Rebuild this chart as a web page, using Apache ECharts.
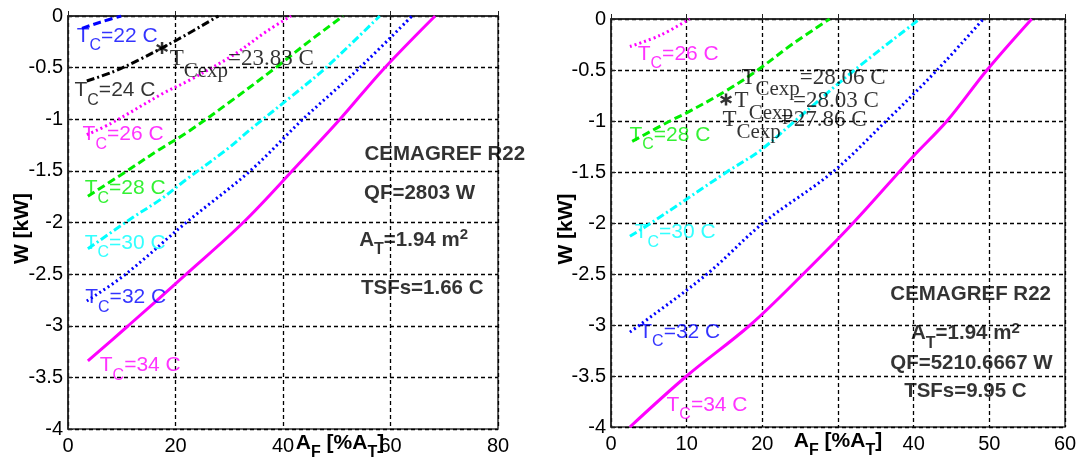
<!DOCTYPE html>
<html><head><meta charset="utf-8">
<script src="https://cdn.jsdelivr.net/npm/echarts@6/dist/echarts.min.js"></script>
<style>html,body{margin:0;padding:0;background:#fff}#c{width:1081px;height:466px}</style>
</head><body><div id="c"></div>
<script>
// ---------- axes / ticks ----------
const leftXTicks = [0, 20, 40, 60, 80];
const rightXTicks = [0, 10, 20, 30, 40, 50, 60];
const rightHiddenTick = 30; // covered by the axis title in the reference
const yTicks = [0, -0.5, -1, -1.5, -2, -2.5, -3, -3.5, -4];

// ---------- left panel curves: [A_F %, W kW] ----------
const leftTC22 = [[2.6,-0.12],[6,-0.06],[9.9,0]];
const leftTC24 = [[3.5,-0.63],[8.4,-0.54],[13,-0.43],[20.5,-0.225],[28,0]];
const leftTC26 = [[3.5,-1.15],[8,-1.04],[18,-0.74],[22.3,-0.63],[30.7,-0.38],[37.2,-0.14],[41.5,0]];
const leftTC28 = [[3.7,-1.745],[10.4,-1.52],[17.1,-1.29],[22.1,-1.13],[30.7,-0.81],[38.9,-0.49],[44.5,-0.26],[51.2,0]];
const leftTC30 = [[3.7,-2.255],[12.1,-1.95],[17.4,-1.77],[22.1,-1.58],[29.6,-1.29],[33.9,-1.10],[43.2,-0.71],[48.2,-0.49],[58,0]];
const leftTC32 = [[3.5,-2.76],[10.5,-2.51],[22,-2.0],[33.9,-1.5],[43.7,-1.0],[54.3,-0.5],[64,0]];
const leftTC34 = [[3.7,-3.34],[11.2,-3.0],[22,-2.5],[32.6,-2.0],[42.6,-1.45],[50.6,-1.0],[58.6,-0.52],[68.3,0]];
const leftExp = [[17.5,-0.31]];

// ---------- right panel curves ----------
const rightTC26 = [[2.5,-0.27],[6.5,-0.16],[10.4,0]];
const rightTC28 = [[2.8,-1.2],[7.8,-1.0],[10,-0.92],[15.3,-0.70],[19.4,-0.5],[24.1,-0.24],[28.9,0]];
const rightTC30 = [[2.5,-2.13],[5.3,-2.0],[15.3,-1.5],[19.7,-1.29],[24.3,-1.0],[32.2,-0.5],[40.8,0]];
const rightTC32 = [[2.5,-3.07],[3.8,-3.0],[12.7,-2.5],[20.1,-2.0],[29.3,-1.5],[36.5,-0.99],[43.1,-0.5],[49.2,0]];
const rightTC34 = [[2.5,-4.0],[10,-3.5],[18.4,-3.0],[25.4,-2.5],[32,-2.0],[39.9,-1.35],[44.4,-1.0],[49.7,-0.5],[55.6,0]];
const rightExp = [[15.2,-0.79]];

// ---------- texts ----------
const leftTCValues = ['22','24','26','28','30','32','34'];
const rightTCValues = ['26','28','30','32','34'];
const leftExpTexts = ['23.83'];
const rightExpTexts = ['28.06','28.03','27.86'];
const leftInfo = ['CEMAGREF R22', 'QF=2803 W', 'AT=1.94 m2', 'TSFs=1.66 C'];
const rightInfo = ['CEMAGREF R22', 'AT=1.94 m2', 'QF=5210.6667 W', 'TSFs=9.95 C'];

// label anchors (data coordinates)
const leftTCPos = [[1.7,-0.198],[1.3,-0.723],[2.8,-1.152],[3.2,-1.672],[3.2,-2.202],[3.3,-2.733],[6.0,-3.388]];
const rightTCPos = [[3.6,-0.348],[2.5,-1.142],[3.2,-2.098],[3.8,-3.074],[7.4,-3.789]];
const leftExpPos = [[19.0,-0.424]];
const rightExpPos = [[17.3,-0.578],[16.4,-0.809],[14.8,-0.995]];
const leftInfoPos = [[70.2,-1.34],[65.5,-1.725],[64.4,-2.173],[66.0,-2.641]];
const rightInfoPos = [[47.6,-2.706],[46.9,-3.088],[47.7,-3.377],[46.9,-3.652]];

const BLUE = '#0000ff', BLACK = '#000000', MAG = '#ff00ff', GREEN = '#00ee00', CYAN = '#00ffff';
const DASH = [8, 4], DASHDOT = [8, 3, 2, 3], DOT = [2, 3];
const leftColors = [BLUE, BLACK, MAG, GREEN, CYAN, BLUE, MAG];
const rightColors = [MAG, GREEN, CYAN, BLUE, MAG];
const leftStyles = [DASH, DASHDOT, DOT, DASH, DASHDOT, DOT, 'solid'];
const rightStyles = [DOT, DASH, DASHDOT, DOT, 'solid'];
const leftCurves = [leftTC22, leftTC24, leftTC26, leftTC28, leftTC30, leftTC32, leftTC34];
const rightCurves = [rightTC26, rightTC28, rightTC30, rightTC32, rightTC34];

const SANS = 'Liberation Sans, Arial, sans-serif';
const SERIF = 'Liberation Serif, Times New Roman, serif';

const STAR = 'path://M1,-5L1,5L-1,5L-1,-5ZM-3.83,-3.366L4.83,1.634L3.83,3.366L-4.83,-1.634ZM4.83,-1.634L-3.83,3.366L-4.83,1.634L3.83,-3.366Z';

function tcRich(color) {
  return {
    t: {fontFamily: SANS, fontSize: 21, color: color, verticalAlign: 'middle'},
    s: {fontFamily: SANS, fontSize: 16, color: color, verticalAlign: 'middle', padding: [20, 0, 0, 0]}
  };
}
const expRich = {
  t: {fontFamily: SERIF, fontSize: 23, color: '#000', verticalAlign: 'middle'},
  s: {fontFamily: SERIF, fontSize: 21, color: '#000', verticalAlign: 'middle', padding: [24, 0, 0, 0]}
};
const infoRich = {
  b: {fontFamily: SANS, fontSize: 20.5, fontWeight: 'bold', color: '#000', verticalAlign: 'middle'},
  bs: {fontFamily: SANS, fontSize: 16, fontWeight: 'bold', color: '#000', verticalAlign: 'middle', padding: [20, 0, 0, 0]},
  bp: {fontFamily: SANS, fontSize: 15, fontWeight: 'bold', color: '#000', verticalAlign: 'middle', padding: [0, 0, 10, 0]}
};
function infoText(s) {
  if (s.indexOf('AT=') === 0) {
    const rest = s.slice(2, s.length - 1);
    return '{b|A}{bs|T}{b|' + rest + '}{bp|2}';
  }
  return '{b|' + s + '}';
}

const series = [];
function addCurves(curves, colors, styles, idx) {
  curves.forEach((d, i) => {
    series.push({
      type: 'line', xAxisIndex: idx, yAxisIndex: idx, data: d,
      showSymbol: false, symbol: 'none', smooth: 0.35, z: 3, silent: true,
      lineStyle: {color: colors[i], width: 3, type: styles[i]}
    });
  });
}
addCurves(leftCurves, leftColors, leftStyles, 0);
addCurves(rightCurves, rightColors, rightStyles, 1);

function addLabels(pos, texts, align, idx) {
  series.push({
    type: 'scatter', xAxisIndex: idx, yAxisIndex: idx, symbolSize: 1, z: 5, silent: true,
    itemStyle: {color: 'rgba(0,0,0,0)'},
    data: pos.map((p, i) => ({
      value: p,
      label: {show: true, position: [0, 0], align: align, verticalAlign: 'middle',
        formatter: texts[i].text, rich: texts[i].rich}
    }))
  });
}
addLabels(leftTCPos, leftTCValues.map((v, i) => ({text: '{t|T}{s|C}{t|=' + v + ' C}', rich: tcRich(leftColors[i])})), 'left', 0);
addLabels(rightTCPos, rightTCValues.map((v, i) => ({text: '{t|T}{s|C}{t|=' + v + ' C}', rich: tcRich(rightColors[i])})), 'left', 1);
addLabels(leftExpPos, leftExpTexts.map(v => ({text: '{t|T}{s|Cexp}{t|=' + v + ' C}', rich: expRich})), 'left', 0);
addLabels(rightExpPos, rightExpTexts.map(v => ({text: '{t|T}{s|Cexp}{t|=' + v + ' C}', rich: expRich})), 'left', 1);
addLabels(leftInfoPos, leftInfo.map(v => ({text: infoText(v), rich: infoRich})), 'center', 0);
addLabels(rightInfoPos, rightInfo.map(v => ({text: infoText(v), rich: infoRich})), 'center', 1);

[[leftExp, 0], [rightExp, 1]].forEach(([d, idx]) => {
  series.push({type: 'scatter', xAxisIndex: idx, yAxisIndex: idx, data: d, symbol: STAR,
    symbolSize: 12, z: 6, silent: true, itemStyle: {color: '#000'}});
});

const splitLine = {show: true, lineStyle: {color: '#000', type: [4, 3], width: 1.3}};
const axisLine = {show: true, lineStyle: {color: '#222', width: 1.5}};
const axisTick = {show: true, inside: true, length: 5, lineStyle: {color: '#222', width: 1}};
const tickLabel = {fontFamily: SANS, fontSize: 20, color: '#000'};
const nameRich = {
  b: {fontFamily: SANS, fontSize: 21, fontWeight: 'bold', color: '#000', verticalAlign: 'middle'},
  bs: {fontFamily: SANS, fontSize: 16, fontWeight: 'bold', color: '#000', verticalAlign: 'middle', padding: [20, 0, 0, 0]}
};

function xAxis(ticks, idx, pad, hidden) {
  return {
    type: 'value', gridIndex: idx, min: ticks[0], max: ticks[ticks.length - 1], interval: ticks[1] - ticks[0],
    axisLine, axisTick, splitLine,
    axisLabel: Object.assign({margin: 7, formatter: v => (v === hidden ? '' : String(v))}, tickLabel),
    name: '{b|A}{bs|F}{b| [%A}{bs|T}{b|]}', nameLocation: 'middle', nameGap: -4, nameMoveOverlap: false,
    nameTextStyle: {rich: nameRich, padding: pad}
  };
}
function yAxis(idx, gap) {
  return {
    type: 'value', gridIndex: idx, min: yTicks[yTicks.length - 1], max: yTicks[0], interval: yTicks[0] - yTicks[1],
    axisLine, axisTick, splitLine,
    axisLabel: Object.assign({margin: 5}, tickLabel),
    name: 'W [kW]', nameLocation: 'middle', nameGap: gap, nameMoveOverlap: false,
    nameTextStyle: {fontFamily: SANS, fontSize: 21, fontWeight: 'bold', color: '#000', padding: [0, 12, 0, 0]}
  };
}

const chart = echarts.init(document.getElementById('c'), null, {renderer: 'canvas'});
chart.setOption({
  animation: false,
  backgroundColor: '#fff',
  grid: [
    {left: 68, top: 16, width: 430, height: 415, show: true, borderColor: '#333', borderWidth: 1.5, backgroundColor: 'transparent'},
    {left: 611, top: 19, width: 454, height: 408, show: true, borderColor: '#333', borderWidth: 1.5, backgroundColor: 'transparent'}
  ],
  xAxis: [xAxis(leftXTicks, 0, [0, 0, 0, 114], null), xAxis(rightXTicks, 1, [0, 0, 0, 0], rightHiddenTick)],
  yAxis: [yAxis(0, 35), yAxis(1, 34)],
  series
});
</script>
</body></html>
